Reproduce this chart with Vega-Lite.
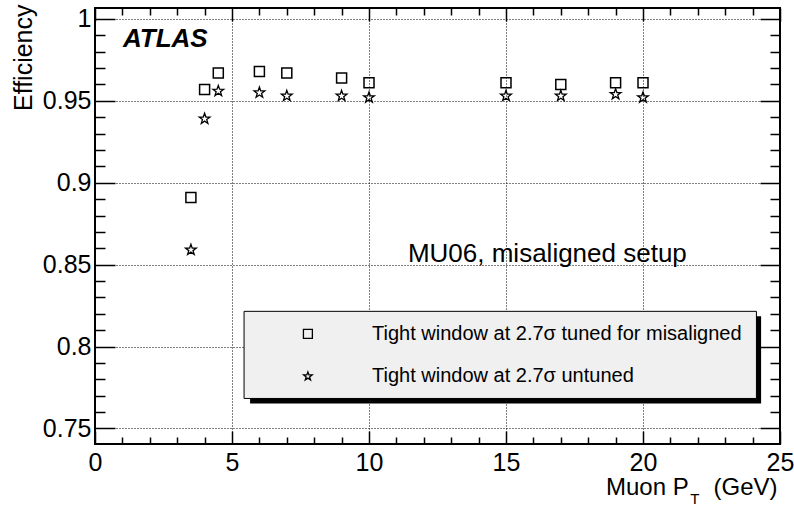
{
  "$schema": "https://vega.github.io/schema/vega-lite/v6.json",
  "width": 685,
  "height": 436,
  "autosize": {"type": "none"},
  "padding": {"left": 95, "top": 8, "right": 14, "bottom": 62},
  "background": "white",
  "config": {
    "view": {"stroke": "black", "strokeWidth": 2},
    "font": "Liberation Sans",
    "axis": {
      "domain": false,
      "labelFont": "Liberation Sans",
      "titleFont": "Liberation Sans",
      "labelColor": "black",
      "titleColor": "black",
      "tickColor": "black",
      "tickWidth": 1.5,
      "labelFontSize": 25,
      "titleFontSize": 24,
      "titleFontWeight": "normal",
      "gridColor": "black",
      "gridDash": [1, 2],
      "gridOpacity": 1,
      "gridWidth": 1,
      "labelFlush": false,
      "labelOverlap": false,
      "labelBound": false
    }
  },
  "datasets": {
    "tuned": [
      {"pt": 3.5, "eff": 0.891},
      {"pt": 4, "eff": 0.957},
      {"pt": 4.5, "eff": 0.967},
      {"pt": 6, "eff": 0.968},
      {"pt": 7, "eff": 0.967},
      {"pt": 9, "eff": 0.964},
      {"pt": 10, "eff": 0.961},
      {"pt": 15, "eff": 0.961},
      {"pt": 17, "eff": 0.960},
      {"pt": 19, "eff": 0.961},
      {"pt": 20, "eff": 0.961}
    ],
    "untuned": [
      {"pt": 3.5, "eff": 0.859},
      {"pt": 4, "eff": 0.939},
      {"pt": 4.5, "eff": 0.956},
      {"pt": 6, "eff": 0.955},
      {"pt": 7, "eff": 0.953},
      {"pt": 9, "eff": 0.953},
      {"pt": 10, "eff": 0.952},
      {"pt": 15, "eff": 0.953},
      {"pt": 17, "eff": 0.953},
      {"pt": 19, "eff": 0.954},
      {"pt": 20, "eff": 0.952}
    ],
    "shadow": [{"x1": 5.66, "x2": 24.31, "y1": 0.8185, "y2": 0.7653}],
    "box": [{"x1": 5.44, "x2": 24.14, "y1": 0.8215, "y2": 0.7683}],
    "legend": [
      {"series": "tuned", "x": 7.77, "y": 0.8077, "tx": 10.11, "label": "Tight window at 2.7σ tuned for misaligned"},
      {"series": "untuned", "x": 7.77, "y": 0.7818, "tx": 10.11, "label": "Tight window at 2.7σ untuned"}
    ],
    "setup": [{"x": 11.42, "y": 0.8515, "label": "MU06, misaligned setup"}],
    "atlas": [{"x": 1.02, "y": 0.9829, "label": "ATLAS"}],
    "sub": [{"x": 21.72, "y": 0.7041, "label": "T"}]
  },
  "layer": [
    {
      "data": {"name": "tuned"},
      "mark": {"type": "point", "shape": "square", "filled": false, "stroke": "black", "strokeWidth": 1.5, "size": 100, "opacity": 1},
      "encoding": {
        "x": {"field": "pt", "type": "quantitative", "scale": {"domain": [0, 25], "nice": false, "zero": false},
          "axis": {"orient": "bottom", "values": [0, 5, 10, 15, 20, 25], "ticks": false, "grid": true, "labelPadding": 6,
            "title": "Muon P\u00a0\u00a0\u00a0\u2009(GeV)", "titleX": 682, "titleY": 50, "titleAlign": "right", "titleBaseline": "alphabetic", "titleAngle": 0}},
        "y": {"field": "eff", "type": "quantitative", "scale": {"domain": [0.7405, 1.0067], "nice": false, "zero": false},
          "axis": {"orient": "left", "values": [0.75, 0.8, 0.85, 0.9, 0.95, 1], "format": "~g", "ticks": false, "grid": true, "labelPadding": 4,
            "title": "Efficiency", "titleFontSize": 25, "titleX": -64, "titleY": -4, "titleAngle": 270, "titleAlign": "right", "titleBaseline": "alphabetic"}}
      }
    },
    {
      "data": {"name": "untuned"},
      "mark": {"type": "point", "shape": "M0,-1L0.235,-0.324L0.951,-0.309L0.38,0.124L0.588,0.809L0,0.4L-0.588,0.809L-0.38,0.124L-0.951,-0.309L-0.235,-0.324Z", "filled": false, "stroke": "black", "strokeWidth": 1.3, "size": 126, "opacity": 1},
      "encoding": {
        "x": {"field": "pt", "type": "quantitative", "scale": {"domain": [0, 25], "nice": false, "zero": false},
          "axis": {"orient": "bottom", "values": [0, 5, 10, 15, 20, 25], "tickSize": -13, "labels": false, "grid": false, "title": null}},
        "y": {"field": "eff", "type": "quantitative", "scale": {"domain": [0.7405, 1.0067], "nice": false, "zero": false},
          "axis": {"orient": "left", "values": [0.75, 0.8, 0.85, 0.9, 0.95, 1], "tickSize": -20, "labels": false, "grid": false, "title": null}}
      }
    },
    {
      "data": {"name": "shadow"},
      "mark": {"type": "rect", "fill": "black"},
      "encoding": {
        "x": {"field": "x1", "type": "quantitative", "scale": {"domain": [0, 25], "nice": false, "zero": false},
          "axis": {"orient": "bottom", "values": [1,2,3,4,6,7,8,9,11,12,13,14,16,17,18,19,21,22,23,24], "tickSize": -7, "labels": false, "grid": false, "title": null}},
        "x2": {"field": "x2"},
        "y": {"field": "y1", "type": "quantitative", "scale": {"domain": [0.7405, 1.0067], "nice": false, "zero": false},
          "axis": {"orient": "left", "values": [0.76,0.77,0.78,0.79,0.81,0.82,0.83,0.84,0.86,0.87,0.88,0.89,0.91,0.92,0.93,0.94,0.96,0.97,0.98,0.99], "tickSize": -10, "labels": false, "grid": false, "title": null}},
        "y2": {"field": "y2"}
      }
    },
    {
      "data": {"name": "box"},
      "mark": {"type": "rect", "fill": "#f0f0f0", "stroke": "black", "strokeWidth": 1},
      "encoding": {
        "x": {"field": "x1", "type": "quantitative", "scale": {"domain": [0, 25], "nice": false, "zero": false},
          "axis": {"orient": "top", "values": [0, 5, 10, 15, 20, 25], "tickSize": -13, "labels": false, "grid": false, "title": null}},
        "x2": {"field": "x2"},
        "y": {"field": "y1", "type": "quantitative", "scale": {"domain": [0.7405, 1.0067], "nice": false, "zero": false},
          "axis": {"orient": "right", "values": [0.75, 0.8, 0.85, 0.9, 0.95, 1], "tickSize": -20, "labels": false, "grid": false, "title": null}},
        "y2": {"field": "y2"}
      }
    },
    {
      "data": {"name": "legend"},
      "mark": {"type": "point", "filled": false, "stroke": "black", "strokeWidth": 1.3, "size": 80, "opacity": 1},
      "encoding": {
        "x": {"field": "x", "type": "quantitative", "scale": {"domain": [0, 25], "nice": false, "zero": false},
          "axis": {"orient": "top", "values": [1,2,3,4,6,7,8,9,11,12,13,14,16,17,18,19,21,22,23,24], "tickSize": -7, "labels": false, "grid": false, "title": null}},
        "y": {"field": "y", "type": "quantitative", "scale": {"domain": [0.7405, 1.0067], "nice": false, "zero": false},
          "axis": {"orient": "right", "values": [0.76,0.77,0.78,0.79,0.81,0.82,0.83,0.84,0.86,0.87,0.88,0.89,0.91,0.92,0.93,0.94,0.96,0.97,0.98,0.99], "tickSize": -10, "labels": false, "grid": false, "title": null}},
        "shape": {"field": "series", "type": "nominal", "legend": null,
          "scale": {"domain": ["tuned", "untuned"], "range": ["square", "M0,-1L0.235,-0.324L0.951,-0.309L0.38,0.124L0.588,0.809L0,0.4L-0.588,0.809L-0.38,0.124L-0.951,-0.309L-0.235,-0.324Z"]}}
      }
    },
    {
      "data": {"name": "legend"},
      "mark": {"type": "text", "align": "left", "baseline": "middle", "fontSize": 20, "font": "Liberation Sans", "color": "black"},
      "encoding": {
        "x": {"field": "tx", "type": "quantitative", "scale": {"domain": [0, 25], "nice": false, "zero": false}, "axis": null},
        "y": {"field": "y", "type": "quantitative", "scale": {"domain": [0.7405, 1.0067], "nice": false, "zero": false}, "axis": null},
        "text": {"field": "label"}
      }
    },
    {
      "data": {"name": "setup"},
      "mark": {"type": "text", "align": "left", "baseline": "alphabetic", "fontSize": 26, "font": "Liberation Sans", "color": "black"},
      "encoding": {
        "x": {"field": "x", "type": "quantitative", "scale": {"domain": [0, 25], "nice": false, "zero": false}, "axis": null},
        "y": {"field": "y", "type": "quantitative", "scale": {"domain": [0.7405, 1.0067], "nice": false, "zero": false}, "axis": null},
        "text": {"field": "label"}
      }
    },
    {
      "data": {"name": "atlas"},
      "mark": {"type": "text", "align": "left", "baseline": "alphabetic", "fontSize": 26, "fontWeight": "bold", "fontStyle": "italic", "font": "Liberation Sans", "color": "black"},
      "encoding": {
        "x": {"field": "x", "type": "quantitative", "scale": {"domain": [0, 25], "nice": false, "zero": false}, "axis": null},
        "y": {"field": "y", "type": "quantitative", "scale": {"domain": [0.7405, 1.0067], "nice": false, "zero": false}, "axis": null},
        "text": {"field": "label"}
      }
    },
    {
      "data": {"name": "sub"},
      "mark": {"type": "text", "align": "left", "baseline": "alphabetic", "fontSize": 15, "font": "Liberation Sans", "color": "black", "clip": false},
      "encoding": {
        "x": {"field": "x", "type": "quantitative", "scale": {"domain": [0, 25], "nice": false, "zero": false}, "axis": null},
        "y": {"field": "y", "type": "quantitative", "scale": {"domain": [0.7405, 1.0067], "nice": false, "zero": false}, "axis": null},
        "text": {"field": "label"}
      }
    }
  ],
  "resolve": {"axis": {"x": "independent", "y": "independent"}}
}
